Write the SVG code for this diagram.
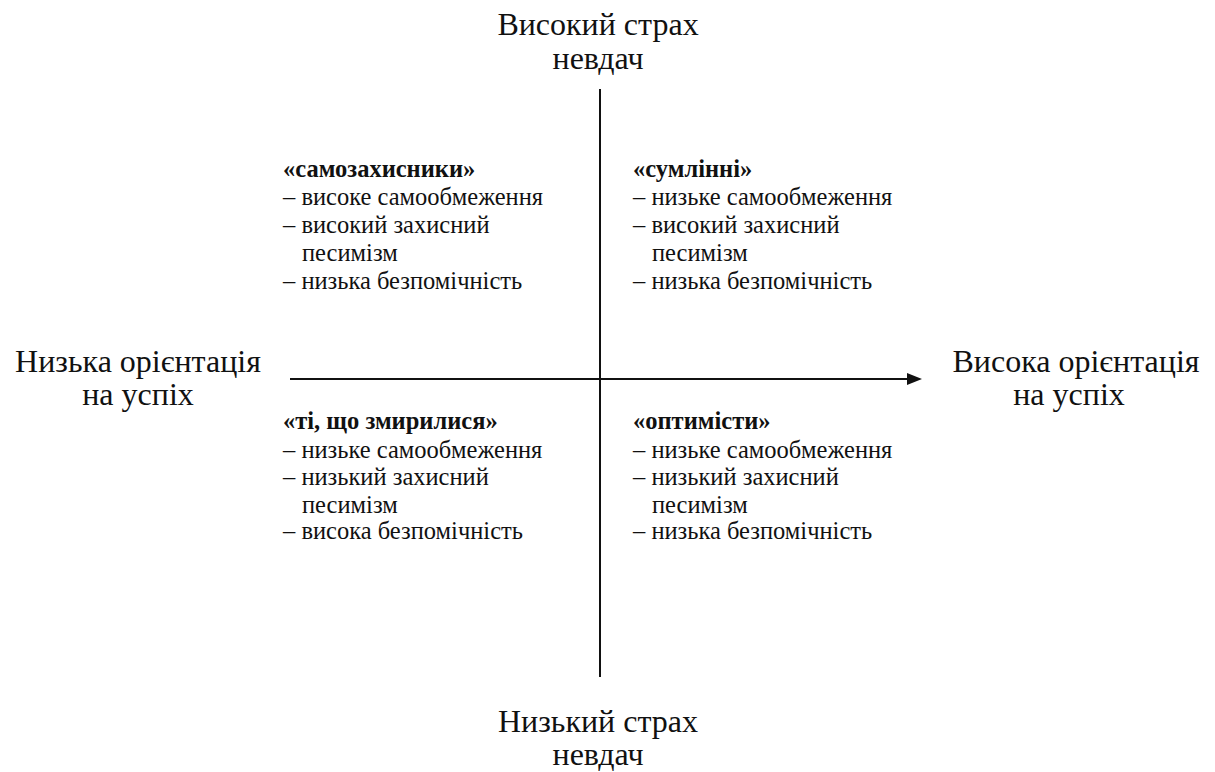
<svg xmlns="http://www.w3.org/2000/svg" width="1215" height="772" viewBox="0 0 1215 772">
<style>
.ax{font-family:"Liberation Serif","Times New Roman",serif;font-size:32px;fill:#111;text-anchor:middle}
.q{font-family:"Liberation Serif","Times New Roman",serif;font-size:24.5px;fill:#111}
.h{font-weight:bold}
.ln{stroke:#111;stroke-width:2;fill:none}
</style>
<rect width="1215" height="772" fill="#fff"/>
<g id="connectors">
<line class="ln" x1="600" y1="89" x2="600" y2="677"/>
<path class="ln" d="M290,379 L910,379"/>
<path d="M907,373 L922,379 L907,385 z" fill="#111"/>
</g>
<g id="top-label">
<text class="ax" x="598" y="35">Високий страх</text>
<text class="ax" x="598" y="69">невдач</text>
</g>
<g id="bottom-label">
<text class="ax" x="598" y="732">Низький страх</text>
<text class="ax" x="598" y="765">невдач</text>
</g>
<g id="left-label">
<text class="ax" x="138" y="372">Низька орієнтація</text>
<text class="ax" x="138" y="405">на успіх</text>
</g>
<g id="right-label">
<text class="ax" x="1076" y="372">Висока орієнтація</text>
<text class="ax" x="1069" y="405">на успіх</text>
</g>
<g id="q-top-left">
<text class="q h" x="283" y="177">«самозахисники»</text>
<text class="q" x="283" y="205">– високе самообмеження</text>
<text class="q" x="283" y="233">– високий захисний</text>
<text class="q" x="302" y="261">песимізм</text>
<text class="q" x="283" y="289">– низька безпомічність</text>
</g>
<g id="q-top-right">
<text class="q h" x="633" y="177">«сумлінні»</text>
<text class="q" x="633" y="205">– низьке самообмеження</text>
<text class="q" x="633" y="233">– високий захисний</text>
<text class="q" x="652" y="261">песимізм</text>
<text class="q" x="633" y="289">– низька безпомічність</text>
</g>
<g id="q-bottom-left">
<text class="q h" x="283" y="429">«ті, що змирилися»</text>
<text class="q" x="283" y="458">– низьке самообмеження</text>
<text class="q" x="283" y="485">– низький захисний</text>
<text class="q" x="302" y="513">песимізм</text>
<text class="q" x="283" y="539">– висока безпомічність</text>
</g>
<g id="q-bottom-right">
<text class="q h" x="633" y="429">«оптимісти»</text>
<text class="q" x="633" y="458">– низьке самообмеження</text>
<text class="q" x="633" y="485">– низький захисний</text>
<text class="q" x="652" y="513">песимізм</text>
<text class="q" x="633" y="539">– низька безпомічність</text>
</g>
</svg>
